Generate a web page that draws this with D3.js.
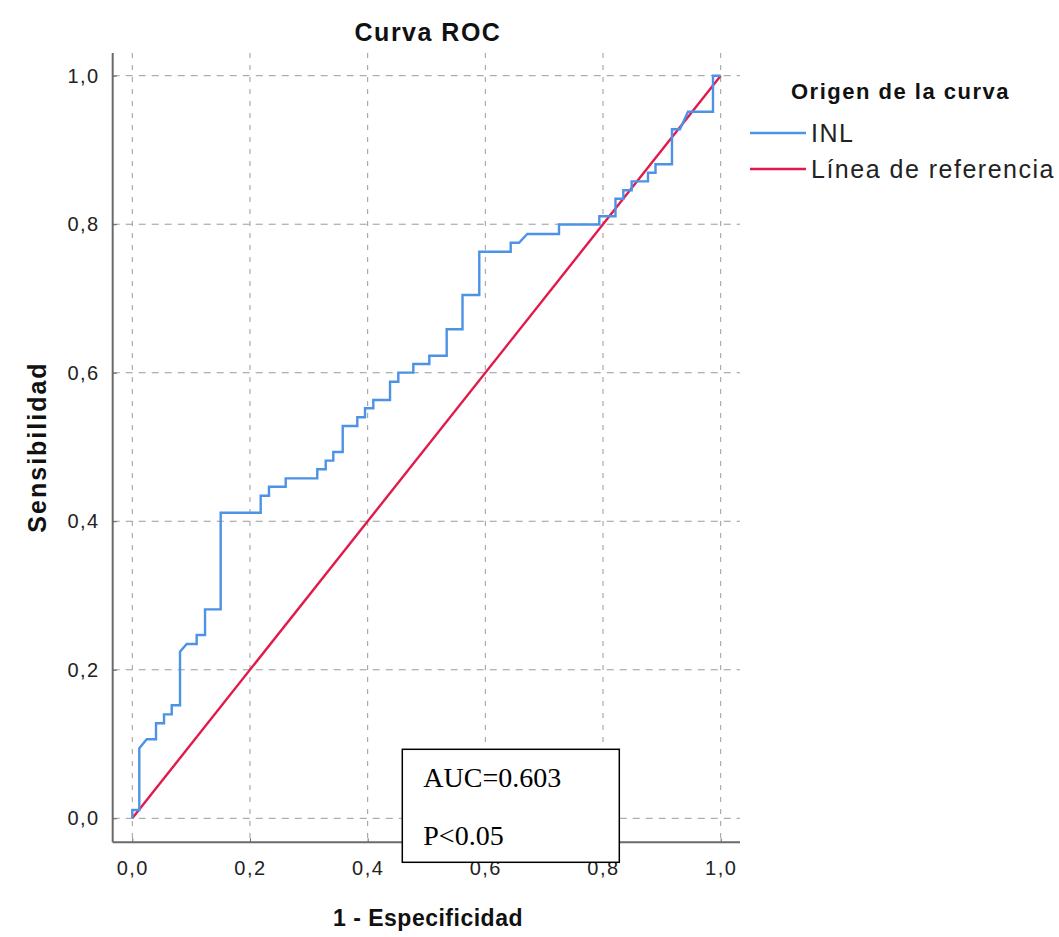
<!DOCTYPE html>
<html>
<head>
<meta charset="utf-8">
<script src="https://cdn.jsdelivr.net/npm/d3@7"></script>
<style>
  body { margin: 0; background: white; }
  text { font-family: "Liberation Sans", Arial, sans-serif; }
</style>
</head>
<body>
<div id="chart"></div>
<script>
// ROC curve points (1 - especificidad, sensibilidad)
var fpr = [0, 0, 0.0119, 0.0119, 0.0245, 0.0403, 0.0403, 0.0539, 0.0539, 0.0670, 0.0670, 0.0811,
  0.0811, 0.0925, 0.1094, 0.1094, 0.1236, 0.1236, 0.1502, 0.1502, 0.2182, 0.2182, 0.2323, 0.2323,
  0.2607, 0.2607, 0.3144, 0.3144, 0.3287, 0.3287, 0.3416, 0.3416, 0.3576, 0.3576, 0.3824, 0.3824,
  0.3955, 0.3955, 0.4096, 0.4096, 0.4380, 0.4380, 0.4521, 0.4521, 0.4776, 0.4776, 0.5048, 0.5048,
  0.5343, 0.5343, 0.5612, 0.5612, 0.5897, 0.5897, 0.6431, 0.6431, 0.6572, 0.6713, 0.7252, 0.7252,
  0.7937, 0.7937, 0.8212, 0.8212, 0.8345, 0.8345, 0.8487, 0.8487, 0.8764, 0.8764, 0.8892, 0.8892,
  0.9172, 0.9172, 0.9308, 0.9444, 0.9869, 0.9869, 1];
var tpr = [0, 0.0112, 0.0112, 0.0943, 0.1064, 0.1064, 0.1279, 0.1279, 0.1400, 0.1400, 0.1522, 0.1522,
  0.2243, 0.2347, 0.2347, 0.2468, 0.2468, 0.2814, 0.2814, 0.4115, 0.4115, 0.4344, 0.4344, 0.4465,
  0.4465, 0.4578, 0.4578, 0.4700, 0.4700, 0.4816, 0.4816, 0.4933, 0.4933, 0.5283, 0.5283, 0.5400,
  0.5400, 0.5521, 0.5521, 0.5633, 0.5633, 0.5879, 0.5879, 0.6001, 0.6001, 0.6118, 0.6118, 0.6229,
  0.6229, 0.6586, 0.6586, 0.7047, 0.7047, 0.7630, 0.7630, 0.7751, 0.7751, 0.7868, 0.7868, 0.7996,
  0.7996, 0.8108, 0.8108, 0.8342, 0.8342, 0.8457, 0.8457, 0.8577, 0.8577, 0.8694, 0.8694, 0.8808,
  0.8808, 0.9278, 0.9278, 0.9515, 0.9515, 1, 1];
var refLine = [[0, 0], [1, 1]];
var tickValues = [0, 0.2, 0.4, 0.6, 0.8, 1.0];
var seriesNames = ['INL', 'Línea de referencia'];
var boxLines = ['AUC=0.603', 'P<0.05'];

var width = 1059;
var height = 937;
var blue = '#4c92e6';
var red = '#e01a4b';

var svg = d3.select('#chart').append('svg')
    .attr('width', width)
    .attr('height', height)
    .style('background', 'white');

var xScale = d3.scaleLinear().domain([0, 1]).range([132.3, 720.7]);
var yScale = d3.scaleLinear().domain([0, 1]).range([818.3, 75.7]);

// frame edges (axis lines sit a bit outside the data range, SPSS style)
var frameLeft = 112.7, frameRight = 740, frameTop = 53, frameBottom = 842.3;

var es = d3.formatLocale({decimal: ',', thousands: '.', grouping: [3], currency: ['', '€']});
var fmt = es.format('.1f');

// grid
svg.append('g').selectAll('line.vgrid')
    .data(tickValues).enter()
    .append('line')
    .attr('x1', d => xScale(d)).attr('x2', d => xScale(d))
    .attr('y1', frameTop).attr('y2', frameBottom)
    .attr('stroke', '#9a9a9a')
    .attr('stroke-dasharray', '5,7');

svg.append('g').selectAll('line.hgrid')
    .data(tickValues).enter()
    .append('line')
    .attr('x1', frameLeft).attr('x2', frameRight)
    .attr('y1', d => yScale(d)).attr('y2', d => yScale(d))
    .attr('stroke', '#9a9a9a')
    .attr('stroke-dasharray', '7,6');

// axes
var xAxis = d3.axisBottom(xScale).tickValues(tickValues).tickFormat(fmt).tickSize(-4).tickPadding(19);
var yAxis = d3.axisLeft(yScale).tickValues(tickValues).tickFormat(fmt).tickSize(-4).tickPadding(13);

var gx = svg.append('g').attr('transform', `translate(0,${frameBottom})`).call(xAxis);
var gy = svg.append('g').attr('transform', `translate(${frameLeft},0)`).call(yAxis);

[gx, gy].forEach(g => {
    g.select('.domain').remove();
    g.selectAll('.tick line').attr('stroke', '#666');
    g.selectAll('.tick text')
        .attr('fill', '#222')
        .style('font-size', '20px')
        .style('letter-spacing', '1.5px')
        .style('font-family', '"Liberation Sans", Arial, sans-serif');
});

svg.append('line')
    .attr('x1', frameLeft).attr('x2', frameLeft).attr('y1', frameTop).attr('y2', frameBottom)
    .attr('stroke', '#6a6a6a').attr('stroke-width', 2);
svg.append('line')
    .attr('x1', frameLeft).attr('x2', frameRight).attr('y1', frameBottom).attr('y2', frameBottom)
    .attr('stroke', '#6a6a6a').attr('stroke-width', 2);

// curves
var line = d3.line().x(d => xScale(d[0])).y(d => yScale(d[1]));

svg.append('path')
    .datum(refLine)
    .attr('d', line)
    .attr('fill', 'none')
    .attr('stroke', red)
    .attr('stroke-width', 2.4);

svg.append('path')
    .datum(d3.zip(fpr, tpr))
    .attr('d', line)
    .attr('fill', 'none')
    .attr('stroke', blue)
    .attr('stroke-width', 2.4);

// titles
svg.append('text')
    .text('Curva ROC')
    .attr('x', 428).attr('y', 41)
    .attr('text-anchor', 'middle')
    .style('font-weight', 'bold').style('font-size', '25px').style('letter-spacing', '1.5px')
    .attr('fill', '#111');

svg.append('text')
    .text('1 - Especificidad')
    .attr('x', 428).attr('y', 926)
    .attr('text-anchor', 'middle')
    .style('font-weight', 'bold').style('font-size', '23px').style('letter-spacing', '0.5px')
    .attr('fill', '#111');

svg.append('text')
    .text('Sensibilidad')
    .attr('transform', 'translate(46,447)rotate(-90)')
    .attr('text-anchor', 'middle')
    .style('font-weight', 'bold').style('font-size', '25px').style('letter-spacing', '2px')
    .attr('fill', '#111');

// legend
var legend = svg.append('g');
legend.append('text')
    .text('Origen de la curva')
    .attr('x', 791).attr('y', 99)
    .style('font-weight', 'bold').style('font-size', '22px').style('letter-spacing', '1.5px')
    .attr('fill', '#111');

var items = legend.selectAll('g.item')
    .data(seriesNames).enter()
    .append('g')
    .attr('transform', (d, i) => `translate(0,${133 + i * 36})`);

items.append('line')
    .attr('x1', 750).attr('x2', 806)
    .attr('stroke', (d, i) => i === 0 ? blue : red)
    .attr('stroke-width', 2.4);

items.append('text')
    .text(d => d)
    .attr('x', 811).attr('y', 9)
    .style('font-size', '25px').style('letter-spacing', '1.5px')
    .attr('fill', '#222');

// AUC box
var box = svg.append('g');
box.append('rect')
    .attr('x', 402.3).attr('y', 749.3)
    .attr('width', 217).attr('height', 113)
    .attr('fill', 'white')
    .attr('stroke', 'black')
    .attr('stroke-width', 1.5);

box.selectAll('text')
    .data(boxLines).enter()
    .append('text')
    .text(d => d)
    .attr('x', 423.3)
    .attr('y', (d, i) => 787 + i * 58)
    .style('font-family', '"Liberation Serif", "Times New Roman", serif')
    .style('font-size', '28px')
    .attr('fill', 'black');
</script>
</body>
</html>
